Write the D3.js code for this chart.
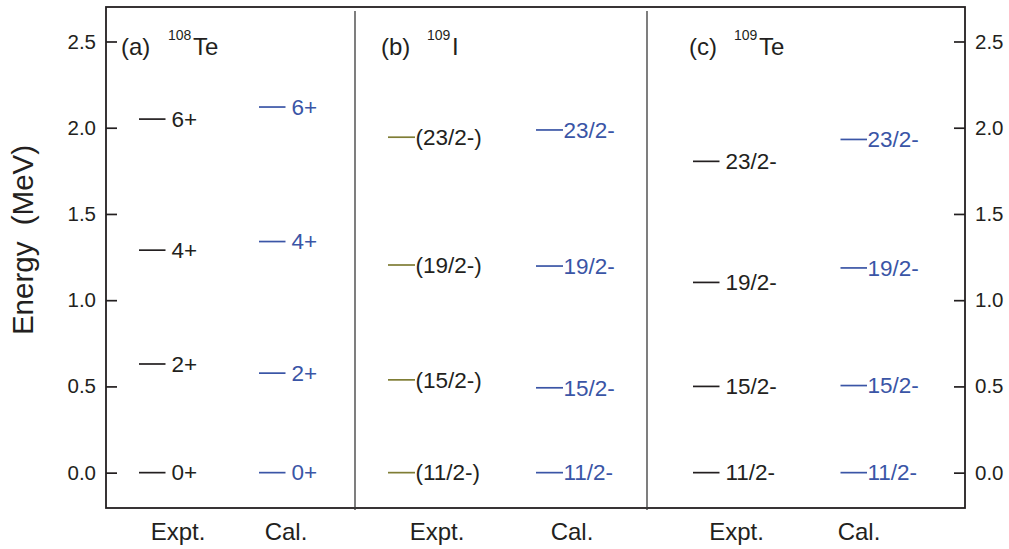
<!DOCTYPE html>
<html>
<head>
<meta charset="utf-8">
<script src="https://cdn.jsdelivr.net/npm/d3@7"></script>
<style>
body { margin: 0; background: #fff; }
text { font-family: "Liberation Sans", Arial, sans-serif; fill: #231f20; }
</style>
</head>
<body>
<svg id="chart"></svg>
<script>
// ---- data ----
var columns = ["Expt.", "Cal."]
var panelTags = ["(a)", "(b)", "(c)"]
var massNumbers = ["108", "109", "109"]
var elements = ["Te", "I", "Te"]

var aExptEnergy = [0, 0.63, 1.29, 2.05]
var aExptSpin = ["0+", "2+", "4+", "6+"]
var aCalEnergy = [0, 0.577, 1.34, 2.12]
var aCalSpin = ["0+", "2+", "4+", "6+"]

var bExptEnergy = [0, 0.538, 1.204, 1.945]
var bExptSpin = ["(11/2-)", "(15/2-)", "(19/2-)", "(23/2-)"]
var bCalEnergy = [0, 0.492, 1.198, 1.987]
var bCalSpin = ["11/2-", "15/2-", "19/2-", "23/2-"]

var cExptEnergy = [0, 0.5, 1.103, 1.805]
var cExptSpin = ["11/2-", "15/2-", "19/2-", "23/2-"]
var cCalEnergy = [0, 0.505, 1.187, 1.932]
var cCalSpin = ["11/2-", "15/2-", "19/2-", "23/2-"]

var yTicks = [0, 0.5, 1.0, 1.5, 2.0, 2.5]

// ---- layout ----
var screen = {width: 1009, height: 549}
var frame = {left: 106, right: 965, top: 7, bottom: 508}
var blue = "#3a55a6"
var black = "#231f20"
var olive = "#7f7d35"

var panels = [
    {left: 106, right: 355, colX: [178, 286], lineX: [139, 259], lineW: 26.5, gap: [6, 6],
     lineColor: [black, blue], textColor: [black, blue], tagX: 121, massX: 168, elX: 193,
     levels: [[aExptEnergy, aExptSpin], [aCalEnergy, aCalSpin]]},
    {left: 355, right: 647, colX: [437, 572], lineX: [388, 536], lineW: 27, gap: [0.5, 0.5],
     lineColor: [olive, blue], textColor: [black, blue], tagX: 381, massX: 427, elX: 452,
     levels: [[bExptEnergy, bExptSpin], [bCalEnergy, bCalSpin]]},
    {left: 647, right: 965, colX: [736.5, 859], lineX: [693, 840.5], lineW: 26.5, gap: [6, 0.5],
     lineColor: [black, blue], textColor: [black, blue], tagX: 689, massX: 734, elX: 759,
     levels: [[cExptEnergy, cExptSpin], [cCalEnergy, cCalSpin]]}
]

var svg = d3.select("#chart")
    .attr("width", screen.width)
    .attr("height", screen.height)

var yScale = d3.scaleLinear()
    .domain([-0.205, 2.7])
    .range([frame.bottom, frame.top])

// frame
svg.append("rect")
    .attr("x", frame.left)
    .attr("y", frame.top)
    .attr("width", frame.right - frame.left)
    .attr("height", frame.bottom - frame.top)
    .attr("fill", "none")
    .attr("stroke", black)
    .attr("stroke-width", 1.8)

// dividers
svg.selectAll(".divider")
    .data(panels.slice(1))
    .enter()
    .append("line")
    .attr("x1", function(p) { return p.left })
    .attr("x2", function(p) { return p.left })
    .attr("y1", frame.top + 4)
    .attr("y2", frame.bottom + 2)
    .attr("stroke", "#3a3a3a")
    .attr("stroke-width", 1.3)

// axes, ticks pointing inward
var leftAxis = d3.axisLeft(yScale)
    .tickValues(yTicks)
    .tickFormat(d3.format(".1f"))
    .tickSizeInner(-11)
    .tickSizeOuter(0)
    .tickPadding(10)
var rightAxis = d3.axisRight(yScale)
    .tickValues(yTicks)
    .tickFormat(d3.format(".1f"))
    .tickSizeInner(-11)
    .tickSizeOuter(0)
    .tickPadding(10)

var styleAxis = function(g)
{
    g.select(".domain").remove()
    g.selectAll(".tick line").attr("stroke", black).attr("stroke-width", 1.7)
    g.selectAll(".tick text")
        .attr("font-size", 20.5)
        .attr("font-family", "Liberation Sans, Arial, sans-serif")
        .attr("fill", black)
}

svg.append("g")
    .attr("transform", "translate(" + frame.left + ",0)")
    .call(leftAxis)
    .call(styleAxis)
svg.append("g")
    .attr("transform", "translate(" + frame.right + ",0)")
    .call(rightAxis)
    .call(styleAxis)

// y label
svg.append("text")
    .text("Energy  (MeV)")
    .attr("text-anchor", "middle")
    .attr("font-size", 29.5)
    .attr("transform", "translate(33,240) rotate(-90)")
    .style("white-space", "pre")

// panels
panels.forEach(function(p, i)
{
    var g = svg.append("g")

    var xLine = d3.scaleOrdinal().domain(columns).range(p.lineX)
    var xCol = d3.scaleOrdinal().domain(columns).range(p.colX)

    // title
    g.append("text").text(panelTags[i]).attr("x", p.tagX).attr("y", 55).attr("font-size", 24)
    g.append("text").text(massNumbers[i]).attr("x", p.massX).attr("y", 40).attr("font-size", 14)
    g.append("text").text(elements[i]).attr("x", p.elX).attr("y", 55).attr("font-size", 24)

    // column labels
    g.selectAll(".col")
        .data(columns)
        .enter()
        .append("text")
        .text(function(c) { return c })
        .attr("x", function(c) { return xCol(c) })
        .attr("y", 540)
        .attr("text-anchor", "middle")
        .attr("font-size", 24)

    columns.forEach(function(c, ci)
    {
        var energies = p.levels[ci][0]
        var spins = p.levels[ci][1]
        var rows = energies.map(function(e, k) { return {e: e, spin: spins[k]} })

        g.selectAll(".lvl" + ci)
            .data(rows)
            .enter()
            .append("line")
            .attr("x1", xLine(c))
            .attr("x2", xLine(c) + p.lineW)
            .attr("y1", function(d) { return yScale(d.e) })
            .attr("y2", function(d) { return yScale(d.e) })
            .attr("stroke", p.lineColor[ci])
            .attr("stroke-width", 1.7)

        g.selectAll(".lbl" + ci)
            .data(rows)
            .enter()
            .append("text")
            .text(function(d) { return d.spin })
            .attr("x", xLine(c) + p.lineW + p.gap[ci])
            .attr("y", function(d) { return yScale(d.e) + 7.8 })
            .attr("font-size", 22.5)
            .style("fill", p.textColor[ci])
    })
})
</script>
</body>
</html>
